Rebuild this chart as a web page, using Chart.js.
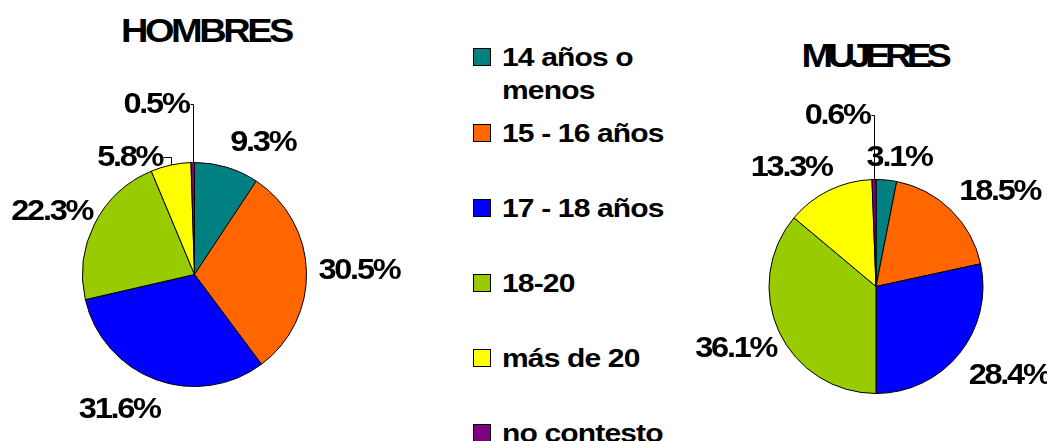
<!DOCTYPE html>
<html>
<head>
<meta charset="utf-8">
<script src="https://cdn.jsdelivr.net/npm/chart.js@4"></script>
<style>
  body { margin:0; background:#fff; width:1047px; height:441px; overflow:hidden; position:relative;
         font-family:"Liberation Sans", Arial, sans-serif; font-weight:bold; color:#000; }
  .titulo { position:absolute; font-size:33px; line-height:33px; white-space:nowrap; transform:translate(-50%,-50%) scaleX(1.15); }
  canvas { position:absolute; top:0; }
  #leyenda { position:absolute; left:473px; top:40.5px; margin:0; padding:0; list-style:none; }
  #leyenda li { position:relative; height:75px; }
  #leyenda li:first-child { height:76px; }
  #leyenda .caja { position:absolute; left:0; top:7px; width:18px; height:18px; border:1px solid #000; box-sizing:border-box; }
  #leyenda .txt { position:absolute; left:29px; top:0; font-size:25px; line-height:33px; white-space:nowrap;
                  transform:scaleX(1.2); transform-origin:left center; letter-spacing:-0.7px; }
  #leyenda li:first-child .txt { white-space:normal; width:120px; }
</style>
</head>
<body>
<div class="titulo" id="t-hombres" style="left:206px; top:30px; letter-spacing:-3px;">HOMBRES</div>
<div class="titulo" id="t-mujeres" style="left:874px; top:55px; letter-spacing:-4.8px;">MUJERES</div>
<canvas id="hombres" width="460" height="441" style="left:0px"></canvas>
<ul id="leyenda"></ul>
<canvas id="mujeres" width="357" height="441" style="left:690px"></canvas>

<script>
// Datos
const categorias = ['14 años o menos', '15 - 16 años', '17 - 18 años', '18-20', 'más de 20', 'no contesto'];
const hombres = [9.3, 30.5, 31.6, 22.3, 5.8, 0.5];
const mujeres = [3.1, 18.5, 28.4, 36.1, 13.3, 0.6];
const colores = ['#008080', '#FF6600', '#0000FF', '#99CC00', '#FFFF00', '#800080'];

const ESTIRAR = 1.12; // ensanche horizontal del texto de las etiquetas

// Etiquetas de porcentaje fuera del pastel, con líneas guía para los sectores chicos
const etiquetasPlugin = {
  id: 'etiquetas',
  afterDatasetsDraw(chart, args, opts) {
    const ctx = chart.ctx;
    const meta = chart.getDatasetMeta(0);
    const valores = chart.data.datasets[0].data;
    ctx.save();
    ctx.font = 'bold 29px "Liberation Sans", Arial, sans-serif';
    ctx.letterSpacing = '-2px';
    ctx.fillStyle = '#000';
    ctx.strokeStyle = '#000';
    ctx.lineWidth = 1;
    ctx.textAlign = 'center';
    ctx.textBaseline = 'middle';
    meta.data.forEach((arc, i) => {
      const p = arc.getProps(['x', 'y', 'startAngle', 'endAngle', 'outerRadius'], true);
      const mid = (p.startAngle + p.endAngle) / 2;
      const ux = Math.cos(mid), uy = Math.sin(mid);
      const texto = valores[i].toFixed(1) + '%';
      const hw = ctx.measureText(texto).width * ESTIRAR / 2;
      const ax = p.x + (p.outerRadius + 12) * ux;
      const ay = p.y + (p.outerRadius + 12) * uy;
      const aj = opts.ajustes[i] || [0, 0];
      const cx = ax + (ux > 0 ? hw : -hw + 8) + aj[0];
      const cy = ay + uy * 13 + (uy > 0 ? 7 : 0) + aj[1];
      ctx.save();
      ctx.translate(cx, cy);
      ctx.scale(ESTIRAR, 1);
      ctx.fillText(texto, 0, 0);
      ctx.restore();
      if (opts.guias[i]) {
        const ex = p.x + p.outerRadius * ux;
        const ey = p.y + p.outerRadius * uy;
        ctx.beginPath();
        ctx.moveTo(Math.round(cx + hw + 1) + 0.5, Math.round(cy - 1) + 0.5);
        ctx.lineTo(Math.round(ex) + 0.5, Math.round(cy - 1) + 0.5);
        ctx.lineTo(Math.round(ex) + 0.5, ey);
        ctx.stroke();
      }
    });
    ctx.restore();
  }
};

function dibujarPastel(id, valores, padding, ajustes, guias) {
  let canvas = document.getElementById(id);
  return new Chart(canvas, {
    type: 'pie',
    data: {
      labels: categorias,
      datasets: [{
        data: valores,
        backgroundColor: colores,
        borderColor: '#000',
        borderWidth: 1
      }]
    },
    options: {
      responsive: false,
      animation: false,
      layout: { padding: padding },
      plugins: {
        legend: { display: false },
        tooltip: { enabled: false },
        etiquetas: { ajustes: ajustes, guias: guias }
      }
    },
    plugins: [etiquetasPlugin]
  });
}

dibujarPastel('hombres', hombres,
  { left: 82, right: 153, top: 162, bottom: 54 },
  [null, null, null, null, [-14, 17], [-12, -33]],
  [false, false, false, false, true, true]);

dibujarPastel('mujeres', mujeres,
  { left: 78.5, right: 63.5, top: 179, bottom: 47 },
  [[-21, 3], null, null, null, null, [-12, -39]],
  [false, false, false, false, false, true]);

// Leyenda en HTML armada desde los mismos arrays
let leyenda = document.getElementById('leyenda');
categorias.forEach((cat, i) => {
  let li = document.createElement('li');
  li.innerHTML = '<span class="caja" style="background:' + colores[i] + '"></span><span class="txt">' + cat + '</span>';
  leyenda.appendChild(li);
});
</script>
</body>
</html>
